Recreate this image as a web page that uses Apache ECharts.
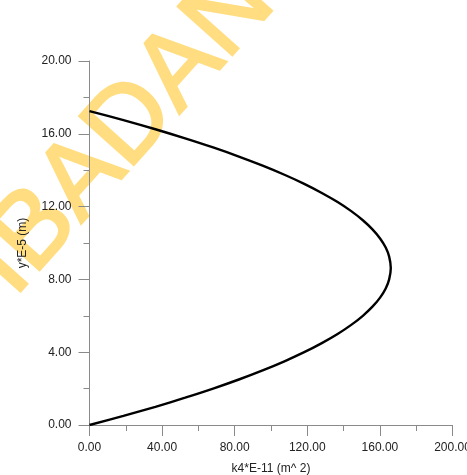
<!DOCTYPE html>
<html>
<head>
<meta charset="utf-8">
<script src="https://cdn.jsdelivr.net/npm/echarts@6/dist/echarts.min.js"></script>
<style>html,body{margin:0;padding:0;background:#fff}#c{width:467px;height:475px}</style>
</head>
<body>
<div id="c"></div>
<script>
// y*E-5 (m) values along the curve
var yVals = [0, 0.5, 1, 1.5, 2, 2.5, 3, 3.5, 4, 4.5, 5, 5.5, 6, 6.5, 7, 7.5, 8, 8.63,
             9.25, 9.75, 10.25, 10.75, 11.25, 11.75, 12.25, 12.75, 13.25, 13.75, 14.25, 14.75, 15.25, 15.75, 16.25, 16.75, 17.25];
// k4*E-11 (m^2) values
var kVals = [0, 18.7, 36.3, 52.7, 68.1, 82.3, 95.4, 107.4, 118.3, 128.0, 136.7, 144.2, 150.6, 155.9, 160.1, 163.2, 165.1, 166.0,
             165.1, 163.2, 160.1, 155.9, 150.6, 144.2, 136.7, 128.0, 118.3, 107.4, 95.4, 82.3, 68.1, 52.7, 36.3, 18.7, 0];
var xTicks = [0, 40, 80, 120, 160, 200];
var yTicks = [0, 4, 8, 12, 16, 20];
var xName = 'k4*E-11 (m^ 2)';
var yName = 'y*E-5 (m)';
var watermark = 'IBADAN';

var pts = yVals.map(function (y, i) { return [kVals[i], y]; });
var chart = echarts.init(document.getElementById('c'), null, {renderer: 'canvas'});
var axisCol = '#8a8a8a';
var font = '"Liberation Sans", Arial, sans-serif';
chart.setOption({
  animation: false,
  backgroundColor: '#fff',
  grid: {left: 89.5, right: 14.5, top: 61, bottom: 50, containLabel: false, outerBoundsMode: 'none'},
  xAxis: {
    type: 'value', min: xTicks[0], max: xTicks[xTicks.length - 1], interval: xTicks[1] - xTicks[0],
    name: xName, nameLocation: 'middle', nameGap: 38,
    nameTextStyle: {fontFamily: font, fontSize: 12, color: '#222'},
    axisLine: {show: true, lineStyle: {color: axisCol, width: 1}},
    axisTick: {show: true, length: 11, lineStyle: {color: axisCol}},
    minorTick: {show: true, splitNumber: 2, length: 6, lineStyle: {color: axisCol}},
    splitLine: {show: false},
    axisLabel: {margin: 17, fontFamily: font, fontSize: 12, color: '#222', formatter: function (v) { return v.toFixed(2); }}
  },
  yAxis: {
    type: 'value', min: yTicks[0], max: yTicks[yTicks.length - 1], interval: yTicks[1] - yTicks[0],
    name: yName, nameLocation: 'middle', nameGap: 61, nameRotate: 90,
    nameTextStyle: {fontFamily: font, fontSize: 12, color: '#222'},
    axisLine: {show: true, lineStyle: {color: axisCol, width: 1}},
    axisTick: {show: true, length: 11, lineStyle: {color: axisCol}},
    minorTick: {show: true, splitNumber: 2, length: 6, lineStyle: {color: axisCol}},
    splitLine: {show: false},
    axisLabel: {margin: 18, fontFamily: font, fontSize: 12, color: '#222', formatter: function (v) { return v.toFixed(2); }}
  },
  series: [{
    type: 'line', data: pts, smooth: 0.3, symbol: 'none', z: 5,
    lineStyle: {color: '#000', width: 2.4}
  }],
  graphic: [{
    type: 'text', z: -10, silent: true,
    x: 124, y: 132, rotation: 0.84,
    style: {text: watermark, font: '106px "Liberation Sans", Arial, sans-serif', fill: '#FFDD80',
            stroke: '#FFDD80', lineWidth: 2.5,
            textAlign: 'center', textVerticalAlign: 'middle'}
  }]
});
</script>
</body>
</html>
